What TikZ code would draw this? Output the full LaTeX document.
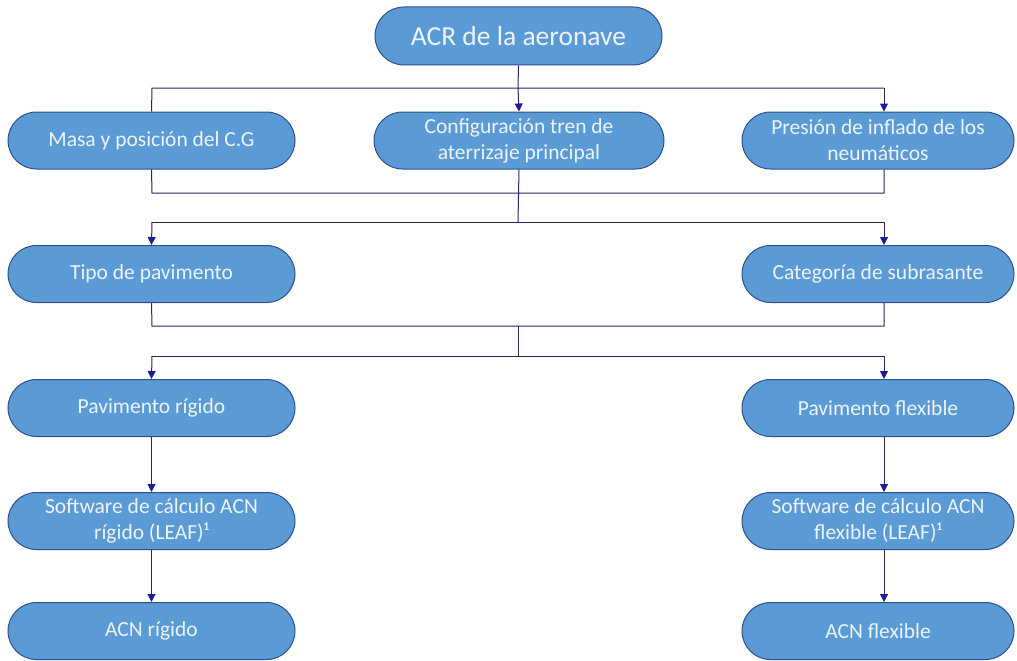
\documentclass[tikz,border=0pt]{standalone}
\usepackage{fontspec}
\setmainfont{Carlito}
\usetikzlibrary{arrows.meta}
\definecolor{fillc}{HTML}{5B9BD5}
\definecolor{bordc}{HTML}{2E4F8C}
\definecolor{linec}{HTML}{262660}
\definecolor{arrc}{HTML}{1C1C96}
\definecolor{textc}{HTML}{EEF4FB}
\tikzset{
  term/.style={draw=bordc, line width=1pt, fill=fillc, rectangle, rounded corners=28.5pt,
    minimum width=287pt, minimum height=57pt, text=textc, align=center,
    inner sep=0pt, font=\fontsize{21.5}{26}\selectfont},
  conn/.style={draw=linec, line width=1pt},
  arr/.style={conn, -{Triangle[length=8pt,width=8pt,color=arrc]}}
}
\begin{document}
\begin{tikzpicture}[x=1pt,y=-1pt]
\useasboundingbox (0,0) rectangle (1017,661);
% nodes
\node[term, minimum width=287pt, minimum height=58pt, rounded corners=29pt, font=\fontsize{27.5}{32}\selectfont] (acr) at (518.5,36) {ACR de la aeronave};
\node[term] (masa) at (151.5,140.5) {Masa y posición del C.G};
\node[term, minimum width=290pt] (conf) at (519,140.5) {Configuración tren de\\aterrizaje principal};
\node[term, minimum width=272pt] (pres) at (878,140.5) {Presión de inflado de los\\neumáticos};
\node[term] (tipo) at (151.5,274) {Tipo de pavimento};
\node[term, minimum width=272pt] (cat) at (878,274) {Categoría de subrasante};
\node[term] (prig) at (151.5,408) {Pavimento rígido};
\node[term, minimum width=272pt] (pflex) at (878,408) {Pavimento flexible};
\node[term] (srig) at (151.5,521) {Software de cálculo ACN\\rígido (LEAF)¹};
\node[term, minimum width=272pt] (sflex) at (878,521) {Software de cálculo ACN\\flexible (LEAF)¹};
\node[term] (arig) at (151.5,631) {ACN rígido};
\node[term, minimum width=272pt] (aflex) at (878,631) {ACN flexible};
% junction coordinates
\coordinate (h1) at (518,88);
\coordinate (h1L) at (152,88);
\coordinate (h1R) at (884,88);
\coordinate (h2L) at (152,193);
\coordinate (h2R) at (884,193);
\coordinate (h3) at (518,222);
\coordinate (h3L) at (152,222);
\coordinate (h3R) at (884,222);
\coordinate (h4L) at (152,326);
\coordinate (h4M) at (518,326);
\coordinate (h4R) at (884,326);
\coordinate (h5M) at (518,356);
\coordinate (h5L) at (152,356);
\coordinate (h5R) at (884,356);
\coordinate (xR) at (884,0);
% connectors
\draw[conn] (acr.south) -- (h1);
\draw[conn] (masa.north) -- (h1L) -- (h1R);
\draw[arr] (h1) -- (conf.north);
\draw[arr] (h1R) -- (pres.north -| h1R);
\draw[conn] (masa.south) -- (h2L) -- (h2R) -- (pres.south -| h2R);
\draw[conn] (conf.south) -- (h3);
\draw[conn] (h3L) -- (h3R);
\draw[arr] (h3L) -- (tipo.north);
\draw[arr] (h3R) -- (cat.north -| h3R);
\draw[conn] (tipo.south) -- (h4L) -- (h4R) -- (cat.south -| h4R);
\draw[conn] (h4M) -- (h5M);
\draw[conn] (h5L) -- (h5R);
\draw[arr] (h5L) -- (prig.north);
\draw[arr] (h5R) -- (pflex.north -| h5R);
\draw[arr] (prig.south) -- (srig.north);
\draw[arr] (srig.south) -- (arig.north);
\draw[arr] (pflex.south -| xR) -- (sflex.north -| xR);
\draw[arr] (sflex.south -| xR) -- (aflex.north -| xR);
\end{tikzpicture}
\end{document}
